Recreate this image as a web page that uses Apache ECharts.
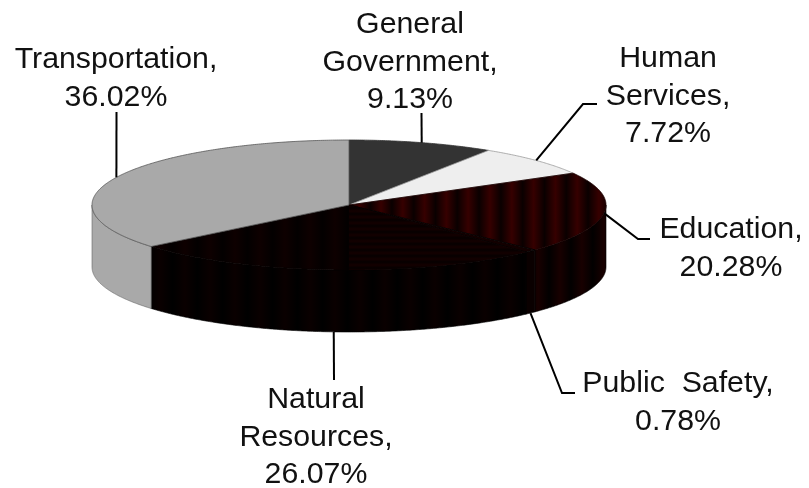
<!DOCTYPE html>
<html><head><meta charset="utf-8">
<style>html,body{margin:0;padding:0;background:#fff}#c{width:809px;height:488px}</style>
<script src="https://cdn.jsdelivr.net/npm/echarts@6/dist/echarts.min.js"></script>
</head><body><div id="c"></div>
<script>
// Data
const categories = ['General\nGovernment,', 'Human\nServices,', 'Education,', 'Public  Safety,', 'Natural\nResources,', 'Transportation,'];
const shares = [9.13, 7.72, 20.28, 0.78, 26.07, 36.02];
const shareLabels = ['9.13%', '7.72%', '20.28%', '0.78%', '26.07%', '36.02%'];

// Layout
const geo = {cx: 349, cy: 205, rx: 257, ry: 65, depth: 62};
const lineH = 37.5;
const labelPos = [[410, 25], [668, 59], [731, 230], [678, 384], [316, 400], [116, 60]];
const leaderBends = [[[421.5, 113]], [[583, 104], [597, 104]], [[638, 239], [650, 239]], [[562, 393], [575, 393]], [[334, 380]], [[116.5, 112]]];

function stripes(x0, x1, period, phase, a, b, vertical) {
  const stops = [], span = x1 - x0;
  let p = phase - Math.ceil((phase - x0) / period + 1) * period;
  for (; p < x1 + period; p += period) {
    [[p, b], [p + period / 2, a]].forEach(([q, c]) => {
      if (q >= x0 && q <= x1) stops.push({offset: (q - x0) / span, color: c});
    });
  }
  return vertical
    ? new echarts.graphic.LinearGradient(0, x0, 0, x1, stops, true)
    : new echarts.graphic.LinearGradient(x0, 0, x1, 0, stops, true);
}
const topFills = ['#333333', '#eeeeee', stripes(340, 620, 21.8, 490, '#0a0000', '#360000'), '#120000', stripes(140, 540, 25, 160, '#030000', '#0e0000'), '#a9a9a9'];
const wallFills = ['#262626', '#d0d0d0', stripes(520, 620, 21.8, 560, '#020000', '#180000'), '#0a0000', stripes(140, 540, 25, 160, '#000000', '#0a0000'), '#a9a9a9'];
const topStroke = ['#333333', '#9a9a9a', '#1a0000', '#000000', '#060000', '#555555'];
const hatch = stripes(205, 300, 6, 205, '#060000', '#140000', true);

const cumul = [];
shares.reduce((s, v, i) => (cumul[i] = s, s + v), 0);
const total = shares.reduce((a, b) => a + b, 0);
const ang = v => v / total * 2 * Math.PI;
const pt = (a, dy) => [geo.cx + geo.rx * Math.sin(a), geo.cy - geo.ry * Math.cos(a) + (dy || 0)];
function arc(a0, a1, dy) {
  const out = [], n = Math.max(2, Math.ceil((a1 - a0) / 0.008));
  for (let i = 0; i <= n; i++) out.push(pt(a0 + (a1 - a0) * i / n, dy));
  return out;
}

function renderItem(params, api) {
  const i = params.dataIndex;
  const a0 = ang(cumul[i]), a1 = ang(cumul[i] + api.value(0)), mid = (a0 + a1) / 2;
  const children = [];
  // front wall
  const w0 = Math.max(a0, Math.PI / 2), w1 = Math.min(a1, Math.PI * 1.5);
  if (w1 > w0) {
    const points = arc(w0, w1).concat(arc(w0, w1, geo.depth).reverse());
    children.push({type: 'polygon', shape: {points}, z2: 1,
      style: {fill: wallFills[i], stroke: i === 5 ? '#666666' : '#000000', lineWidth: 0.6}});
  }
  // top
  children.push({type: 'polygon', shape: {points: [[geo.cx, geo.cy]].concat(arc(a0, a1))}, z2: 2,
    style: {fill: topFills[i], stroke: topStroke[i], lineWidth: 0.8}});
  // fine horizontal texture on the right part of the large dark slice
  if (i === 4) {
    children.push({type: 'polygon', shape: {points: [[geo.cx, geo.cy]].concat(arc(a0, Math.PI))}, z2: 2,
      style: {fill: hatch}});
  }
  // leader
  const front = Math.cos(mid) < -0.5;
  const start = pt(mid, front ? geo.depth : 0);
  children.push({type: 'polyline', shape: {points: [start].concat(leaderBends[i])}, z2: 3,
    style: {fill: null, stroke: '#000000', lineWidth: 2}});
  // label
  children.push({type: 'text', z2: 4, x: labelPos[i][0], y: labelPos[i][1] - lineH / 2,
    style: {text: categories[i] + '\n' + shareLabels[i], font: '30.3px "Liberation Sans", Arial, sans-serif',
      fill: '#111111', align: 'center', verticalAlign: 'top', lineHeight: lineH}});
  return {type: 'group', children};
}

const chart = echarts.init(document.getElementById('c'), null, {renderer: 'canvas'});
chart.setOption({
  animation: false,
  backgroundColor: '#ffffff',
  series: [{type: 'custom', coordinateSystem: 'none', renderItem, silent: true,
    data: shares.map((v, i) => ({name: categories[i].replace(/\n/g, ' '), value: [v]}))}]
});
</script></body></html>
